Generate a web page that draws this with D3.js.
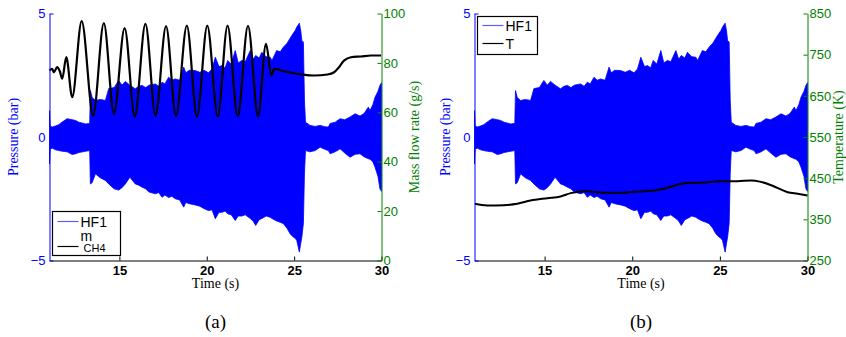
<!DOCTYPE html>
<html>
<head>
<meta charset="utf-8">
<script src="https://cdn.jsdelivr.net/npm/d3@7"></script>
<style>
  html, body { margin: 0; padding: 0; background: #fff; }
  svg { display: block; }
</style>
</head>
<body>
<svg id="chart" width="846" height="337"></svg>
<script>
// ---------------- DATA ----------------
const timeTicks = [15, 20, 25, 30];
const pressureTicks = [-5, 0, 5];
const massTicks = [0, 20, 40, 60, 80, 100];
const tempTicks = [250, 350, 450, 550, 650, 750, 850];

// HF1 pressure signal envelope (bar): time (s), upper and lower bounds
const hfTime  = [11.0, 11.04, 11.15, 11.35, 11.53, 11.75, 12.01, 12.3, 12.49, 12.68, 12.9, 13.06, 13.3, 13.34, 13.44, 13.63, 13.9, 14.2, 14.39, 14.7, 14.96, 15.15, 15.34, 15.6, 15.91, 16.1, 16.3, 16.5, 16.7, 17.06, 17.25, 17.44, 17.6, 17.82, 18.0, 18.2, 18.45, 18.68, 18.8, 19.0, 19.34, 19.6, 19.85, 20.1, 20.3, 20.49, 20.7, 20.87, 21.05, 21.2, 21.4, 21.63, 21.8, 22.01, 22.2, 22.49, 22.65, 22.8, 23.0, 23.15, 23.4, 23.63, 23.73, 24.0, 24.2, 24.39, 24.6, 24.77, 24.95, 25.06, 25.15, 25.3, 25.38, 25.44, 25.53, 25.59, 25.65, 25.91, 26.2, 26.49, 26.75, 26.96, 27.06, 27.35, 27.63, 27.9, 28.2, 28.49, 28.77, 29.0, 29.25, 29.34, 29.5, 29.63, 29.8, 29.91, 30.0];
const hfUpper = [1.07, 0.45, 0.40, 0.45, 0.50, 0.62, 0.74, 0.70, 0.67, 0.60, 0.56, 0.53, 0.55, 1.88, 1.60, 1.48, 1.52, 1.48, 1.96, 2.00, 2.29, 2.10, 2.25, 2.10, 1.95, 2.05, 2.09, 2.00, 2.10, 2.15, 2.05, 2.22, 2.15, 2.42, 2.30, 2.35, 2.30, 2.83, 2.60, 2.70, 2.69, 2.62, 2.70, 2.60, 2.75, 3.23, 2.85, 2.89, 2.80, 3.10, 2.95, 3.50, 3.00, 3.10, 3.05, 3.50, 3.15, 3.30, 3.20, 3.43, 3.25, 3.23, 3.10, 3.50, 3.45, 3.64, 3.80, 4.00, 4.20, 4.31, 4.45, 4.61, 4.30, 3.91, 3.84, 1.50, 0.60, 0.47, 0.43, 0.47, 0.42, 0.40, 0.55, 0.60, 0.74, 0.70, 0.81, 0.94, 0.85, 0.95, 1.21, 1.07, 1.30, 1.61, 1.85, 2.09, 2.20];
const hfLower = [-1.10, -0.50, -0.45, -0.52, -0.55, -0.58, -0.60, -0.71, -0.68, -0.63, -0.60, -0.58, -0.55, -1.90, -1.85, -1.49, -1.65, -1.76, -1.90, -2.10, -2.15, -2.05, -1.90, -1.63, -1.90, -1.95, -2.03, -2.10, -2.23, -2.30, -2.25, -2.44, -2.35, -2.45, -2.40, -2.50, -2.55, -2.84, -2.65, -2.70, -2.75, -2.80, -2.90, -2.98, -2.95, -3.31, -3.05, -3.05, -3.00, -3.11, -3.15, -3.38, -3.20, -3.20, -3.15, -3.30, -3.40, -3.58, -3.35, -3.30, -3.20, -3.25, -3.30, -3.40, -3.45, -3.51, -3.70, -3.92, -4.05, -4.10, -4.19, -4.66, -4.30, -4.06, -3.50, -1.50, -0.55, -0.60, -0.55, -0.41, -0.50, -0.55, -0.68, -0.60, -0.48, -0.65, -0.82, -0.70, -0.68, -0.80, -0.88, -0.90, -1.00, -1.22, -1.60, -2.10, -2.20];

// Methane mass flow rate m_CH4 (g/s)
const mTime = [11.0, 11.15, 11.25, 11.44, 11.59, 11.73, 11.96, 12.30, 12.84, 13.50, 14.11, 14.69, 15.30, 15.88, 16.49, 17.07, 17.67, 18.24, 18.86, 19.44, 20.03, 20.63, 21.19, 21.77, 22.36, 22.94, 23.39, 23.70, 23.86, 24.43, 25.00, 25.48, 26.15, 26.91, 27.29, 27.49, 27.87, 28.25, 28.82, 29.40, 29.97];
const mFlow = [76.9, 77.6, 76.2, 78.3, 76.6, 73.6, 82.3, 66.1, 96.9, 58.7, 96.1, 59.4, 94.1, 58.3, 95.8, 58.7, 94.9, 58.5, 95.1, 58.2, 95.1, 58.3, 95.1, 58.4, 95.0, 58.3, 87.7, 74.9, 77.6, 76.6, 75.8, 75.3, 74.9, 75.3, 76.2, 77.6, 81.0, 82.3, 82.6, 83.0, 83.0];

// Temperature T (K)
const tTime = [11.02, 11.72, 12.68, 13.44, 14.2, 15.15, 15.91, 16.49, 17.25, 17.82, 18.58, 19.34, 20.1, 21.25, 22.01, 22.77, 23.34, 24.1, 25.06, 26.01, 26.77, 27.34, 28.1, 28.87, 29.44, 30.0];
const tTemp = [387.7, 383.6, 384.5, 387.7, 395.8, 401.4, 405.5, 413.6, 418.5, 416.5, 414.5, 414.5, 416.9, 420.0, 426.6, 436.3, 438.7, 439.5, 442.7, 442.7, 444.4, 441.0, 429.8, 416.0, 412.0, 407.9];

// ---------------- DRAW ----------------
const svg = d3.select("#chart");
const SANS = "'Liberation Sans', Arial, Helvetica, sans-serif";
const SERIF = "'Liberation Serif', 'Times New Roman', serif";
const BLUE = "#0000ff";
const GREEN = "#008000";

const yTop = 13.5, yBot = 260.5;

const hfData = hfTime.map((t, i) => ({t, hi: hfUpper[i], lo: hfLower[i]}));

function drawPanel(cfg) {
  const g = svg.append("g");
  const x = d3.scaleLinear().domain([11, 30]).range([cfg.x0, cfg.x1]);
  const yL = d3.scaleLinear().domain([-5, 5]).range([yBot, yTop]);
  const yR = d3.scaleLinear().domain(cfg.rDomain).range([yBot, yTop]);

  // HF1 envelope
  g.append("path")
    .datum(hfData)
    .attr("fill", BLUE)
    .attr("stroke", BLUE)
    .attr("stroke-width", 0.8)
    .attr("d", d3.area().x(d => x(d.t)).y0(d => yL(d.lo)).y1(d => yL(d.hi)));

  // secondary series
  g.append("path")
    .datum(cfg.rTime.map((t, i) => ({t, v: cfg.rVals[i]})))
    .attr("fill", "none")
    .attr("stroke", "#000")
    .attr("stroke-width", cfg.lineW)
    .attr("stroke-linejoin", "round")
    .attr("d", d3.line().x(d => x(d.t)).y(d => yR(d.v)).curve(d3.curveMonotoneX));

  // bottom axis
  const ax = g.append("g").attr("transform", `translate(0,${yBot})`)
    .call(d3.axisBottom(x).tickValues(timeTicks).tickFormat(d3.format("d"))
      .tickSizeInner(-4).tickSizeOuter(0).tickPadding(5));
  ax.select(".domain").attr("stroke", "#000");
  ax.selectAll("line").attr("stroke", "#000");
  ax.selectAll("text").attr("font-family", SANS).attr("font-size", 13)
    .attr("font-weight", "bold").attr("fill", "#000");

  // left axis
  const al = g.append("g").attr("transform", `translate(${cfg.x0},0)`)
    .call(d3.axisLeft(yL).tickValues(pressureTicks)
      .tickSizeInner(-4).tickSizeOuter(0).tickPadding(4));
  al.select(".domain").attr("stroke", BLUE);
  al.selectAll("line").attr("stroke", BLUE);
  al.selectAll("text").attr("font-family", SANS).attr("font-size", 13).attr("fill", BLUE);

  // right axis
  const ar = g.append("g").attr("transform", `translate(${cfg.x1},0)`)
    .call(d3.axisRight(yR).tickValues(cfg.rTicks).tickFormat(d3.format("d"))
      .tickSizeInner(-4).tickSizeOuter(0).tickPadding(2));
  ar.select(".domain").attr("stroke", GREEN);
  ar.selectAll("line").attr("stroke", GREEN);
  ar.selectAll("text").attr("font-family", SANS).attr("font-size", 13).attr("fill", GREEN);

  // axis titles
  const midY = (yTop + yBot) / 2;
  g.append("text").attr("transform", `translate(${cfg.lLabX},${midY}) rotate(-90)`)
    .attr("text-anchor", "middle").attr("font-family", SERIF).attr("font-size", 14)
    .attr("fill", BLUE).text("Pressure (bar)");
  g.append("text").attr("transform", `translate(${cfg.rLabX},${midY}) rotate(-90)`)
    .attr("text-anchor", "middle").attr("font-family", SERIF).attr("font-size", 14)
    .attr("fill", GREEN).text(cfg.rLabel);
  const cx = (cfg.x0 + cfg.x1) / 2;
  g.append("text").attr("x", cx).attr("y", 288).attr("text-anchor", "middle")
    .attr("font-family", SERIF).attr("font-size", 14).attr("fill", "#000").text("Time (s)");
  g.append("text").attr("x", cx).attr("y", 328).attr("text-anchor", "middle")
    .attr("font-family", SERIF).attr("font-size", 19).attr("fill", "#000").text(cfg.caption);

  // legend
  const L = cfg.legend;
  const lg = g.append("g");
  lg.append("rect").attr("x", L.x).attr("y", L.y).attr("width", L.w).attr("height", L.h)
    .attr("fill", "#fff").attr("stroke", "#000").attr("stroke-width", 1.2);
  lg.append("line").attr("x1", L.x + 5).attr("x2", L.x + 26).attr("y1", L.y1).attr("y2", L.y1)
    .attr("stroke", "#5c5cff").attr("stroke-width", 1.2);
  lg.append("text").attr("x", L.x + 28).attr("y", L.y1 + 5).attr("font-family", SANS)
    .attr("font-size", 14).attr("fill", "#000").text("HF1");
  lg.append("line").attr("x1", L.x + 5).attr("x2", L.x + 26).attr("y1", L.y2).attr("y2", L.y2)
    .attr("stroke", "#000").attr("stroke-width", 1.2);
  lg.append("text").attr("x", L.x + 28).attr("y", L.y2 + L.t2dy).attr("font-family", SANS)
    .attr("font-size", 14).attr("fill", "#000").text(L.name2);
  if (L.sub2) {
    lg.append("text").attr("x", L.x + 31).attr("y", L.y2 + 5.5).attr("font-family", SANS)
      .attr("font-size", 11).attr("fill", "#000").text(L.sub2);
  }
}

drawPanel({
  x0: 49.5, x1: 381.5,
  rDomain: [0, 100], rTicks: massTicks,
  rTime: mTime, rVals: mFlow, lineW: 2.2,
  lLabX: 17.5, rLabX: 419, rLabel: "Mass flow rate (g/s)",
  caption: "(a)",
  legend: {x: 52.5, y: 211.5, w: 68, h: 44, y1: 221.5, y2: 246.5, name2: "m", sub2: "CH4", t2dy: -6}
});

drawPanel({
  x0: 474.5, x1: 807.5,
  rDomain: [250, 850], rTicks: tempTicks,
  rTime: tTime, rVals: tTemp, lineW: 2,
  lLabX: 450, rLabX: 843, rLabel: "Temperature (K)",
  caption: "(b)",
  legend: {x: 477.5, y: 16.5, w: 60, h: 38, y1: 25.5, y2: 43.5, name2: "T", sub2: null, t2dy: 5}
});
</script>
</body>
</html>
